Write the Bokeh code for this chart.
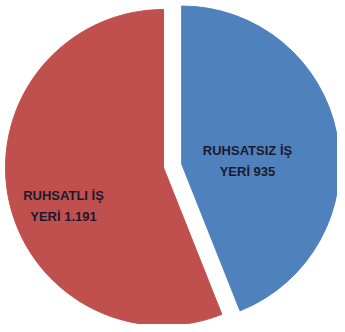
import math
from bokeh.plotting import figure
from bokeh.models import ColumnDataSource
from bokeh.core.properties import value
from bokeh.embed import file_html
from bokeh.resources import INLINE

# data
categories = ["RUHSATSIZ İŞ YERİ", "RUHSATLI İŞ YERİ"]
counts = [935, 1191]
count_labels = ["935", "1.191"]
colors = ["#4F81BD", "#C0504D"]

W, H = 337, 324
R = 158
CX, CY = 163, H - 167
EXPLODE = [18.5, 0]

total = sum(counts)
starts, ends, xs, ys, lx, ly, texts = [], [], [], [], [], [], []
a = math.pi / 2
label_offsets = [(84, 7), (-100, -38)]
for i, c in enumerate(counts):
    span = 2 * math.pi * c / total
    s, e = a, a - span
    mid = (s + e) / 2
    cx = CX + EXPLODE[i] * math.cos(mid)
    cy = CY + EXPLODE[i] * math.sin(mid)
    starts.append(s); ends.append(e); xs.append(cx); ys.append(cy)
    name = categories[i]
    parts = name.rsplit(" ", 1)
    texts.append(parts[0] + "\n" + parts[1] + " " + count_labels[i])
    lx.append(CX + label_offsets[i][0]); ly.append(CY + label_offsets[i][1])
    a = e

src = ColumnDataSource(dict(x=xs, y=ys, s=starts, e=ends, c=colors))
lsrc = ColumnDataSource(dict(x=lx, y=ly, t=texts))

p = figure(width=W, height=H, x_range=(0, W), y_range=(0, H),
           output_backend="svg", toolbar_location=None, min_border=0)
p.axis.visible = False
p.grid.visible = False
p.outline_line_color = None
p.background_fill_color = "white"

p.wedge(x="x", y="y", radius=R, start_angle="s", end_angle="e",
        direction="clock", fill_color="c", line_color="c", line_width=1,
        source=src)
p.text(x="x", y="y", text="t", source=lsrc, text_align="center",
       text_baseline="middle", text_font=value("Liberation Sans"),
       text_font_style="bold", text_font_size="13px", text_color="#1A1A2E",
       text_line_height=1.4)

open("out.html", "w").write(file_html(p, INLINE))
